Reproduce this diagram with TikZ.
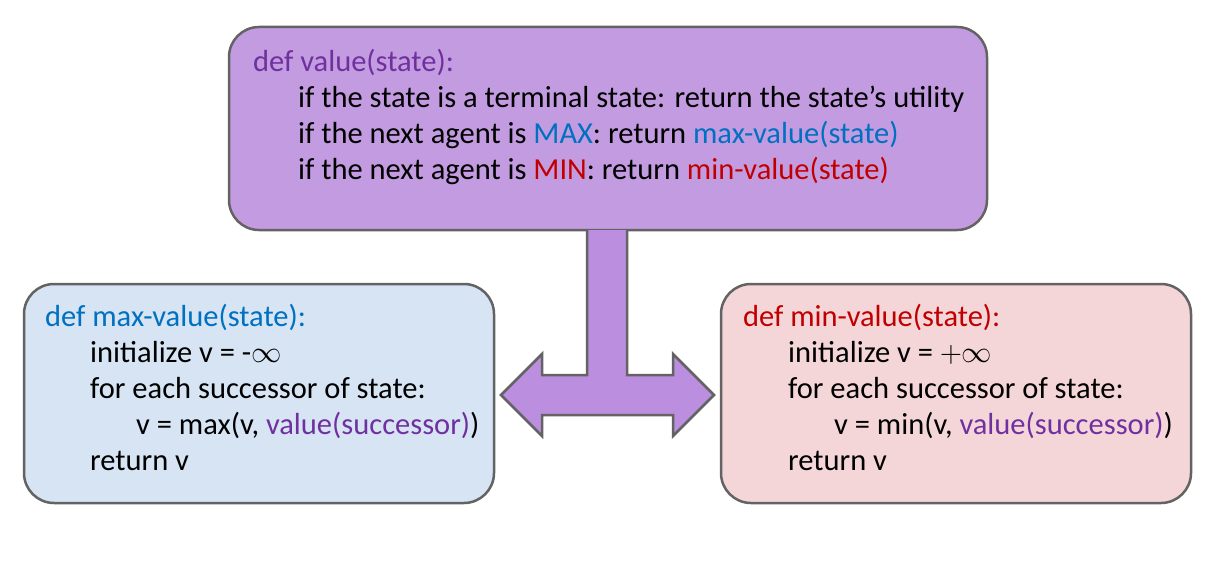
\documentclass[tikz,border=0pt]{standalone}
\usepackage{fontspec}
\setmainfont{Carlito}
\definecolor{vpurple}{HTML}{7030A0}
\definecolor{vblue}{HTML}{0070C0}
\definecolor{vred}{HTML}{C00000}
\definecolor{boxpurple}{HTML}{C39BE0}
\definecolor{arrowpurple}{HTML}{BC8EE0}
\definecolor{boxblue}{HTML}{D6E4F4}
\definecolor{boxred}{HTML}{F4D6D8}
\definecolor{edge}{HTML}{636363}
\newcommand{\biginf}{\scalebox{1.22}{$\infty$}}
\newcommand{\bigplus}{\scalebox{1.22}{$+$}}
\begin{document}
\begin{tikzpicture}[x=1pt,y=1pt,
  codebox/.style={draw=edge,line width=2.5pt,rounded corners=30pt,rectangle,inner sep=0pt},
  code/.style={anchor=base west,inner sep=0pt,font=\fontsize{30.5}{36}\selectfont}]
\useasboundingbox (0,0) rectangle (1211,-567);
% boxes
\node[codebox,fill=boxpurple,minimum width=758pt,minimum height=203pt] (top) at (608,-128.5) {};
\node[codebox,fill=boxblue,minimum width=470pt,minimum height=219pt] (left) at (259,-393.5) {};
\node[codebox,fill=boxred,minimum width=470pt,minimum height=219pt] (right) at (956,-393.5) {};
% T-shaped double arrow
\draw[draw=edge,line width=2.5pt,fill=arrowpurple,line join=miter]
  (587,-230) -- (587,-375) -- (542,-375) -- (542,-354) -- (501,-395) -- (542,-436) -- (542,-415)
  -- (673,-415) -- (673,-436) -- (714,-395) -- (673,-354) -- (673,-375) -- (627,-375) -- (627,-230);
% top text
\node[code,text=vpurple] (t0) at (253,-72) {def value(state):};
\node[code] (t1) at (298,-108) {if the state is a terminal state: return the state’s utility};
\node[code] (t2) at (298,-144) {if the next agent is \textcolor{vblue}{MAX}: return \textcolor{vblue}{max-value(state)}};
\node[code] (t3) at (298,-180) {if the next agent is \textcolor{vred}{MIN}: return \textcolor{vred}{min-value(state)}};
% left text
\node[code,text=vblue] (l0) at (45,-326) {def max-value(state):};
\node[code] (l1) at (90,-362) {initialize v = -\biginf};
\node[code] (l2) at (90,-398) {for each successor of state:};
\node[code] (l3) at (136,-434) {v = max(v, \textcolor{vpurple}{value(successor)})};
\node[code] (l4) at (90,-470) {return v};
% right text
\node[code,text=vred] (r0) at (743,-326) {def min-value(state):};
\node[code] (r1) at (788,-362) {initialize v = \bigplus\biginf};
\node[code] (r2) at (788,-398) {for each successor of state:};
\node[code] (r3) at (834,-434) {v = min(v, \textcolor{vpurple}{value(successor)})};
\node[code] (r4) at (788,-470) {return v};
\end{tikzpicture}
\end{document}
